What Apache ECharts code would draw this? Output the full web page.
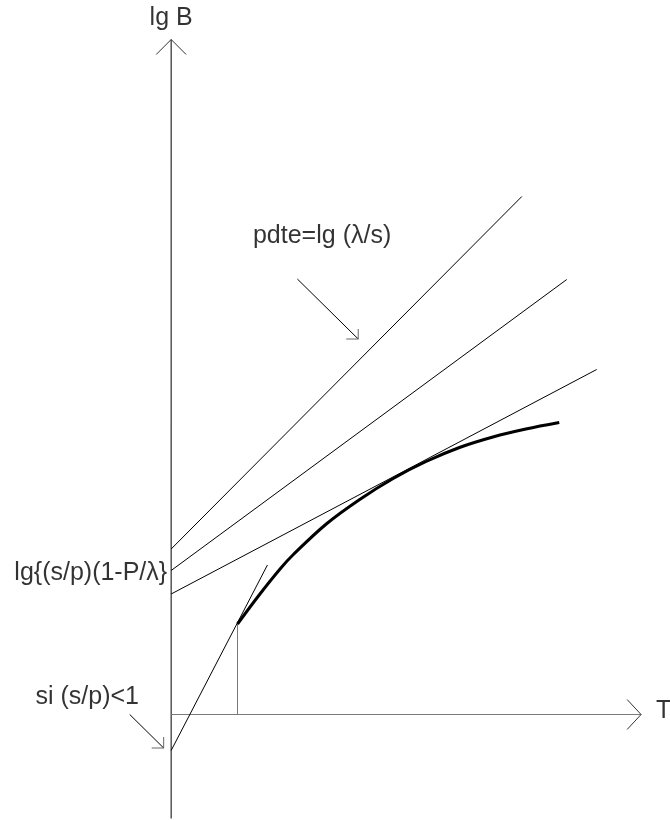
<!DOCTYPE html>
<html>
<head>
<meta charset="utf-8">
<style>html,body{margin:0;padding:0;background:#fff}#c{width:670px;height:820px}</style>
<script src="https://cdn.jsdelivr.net/npm/echarts@6/dist/echarts.min.js"></script>
</head>
<body>
<div id="c"></div>
<script>
// Axes (schematic, in data units)
var vAxisLine = [[0, -2.08], [0, 13.5]];
var vAxisHead = [[-0.3, 13.2], [0, 13.5], [0.3, 13.2]];
var hAxisLine = [[0, 0], [9.42, 0]];
var hAxisHead = [[9.14, 0.3], [9.42, 0], [9.14, -0.3]];

// Straight lines
var line1 = [[0, 3.31], [7.03, 10.36]];
var line2 = [[0, 2.88], [7.93, 8.70]];
var line3 = [[0, 2.41], [8.53, 6.90]];
var tangentLine = [[0, -0.72], [1.93, 2.99]];
var dropLine = [[1.33, 0], [1.33, 1.81]];

// Curve lg B vs T
var curveT = [1.33, 1.78, 2.20, 2.45, 3.11, 3.78, 4.45, 5.11, 5.78, 6.45, 7.11, 7.78];
var curveB = [1.81, 2.41, 2.93, 3.20, 3.81, 4.30, 4.72, 5.06, 5.34, 5.55, 5.71, 5.84];

// Annotation arrows
var arrow1 = [[2.53, 8.71], [3.75, 7.51]];
var arrow1Head = [[3.51, 7.51], [3.75, 7.51], [3.75, 7.71]];
var arrow2 = [[-0.83, 0], [-0.15, -0.67]];
var arrow2Head = [[-0.39, -0.67], [-0.15, -0.67], [-0.15, -0.45]];

// Labels
var labelTexts = ['lg B', 'pdte=lg (\u03bb/s)', 'lg{(s/p)(1-P/\u03bb}', 'si (s/p)<1', 'T'];
var labelX = [0, 1.64, -0.08, -2.72, 9.72];
var labelY = [13.92, 9.56, 2.82, 0.35, 0.06];
var labelAlign = ['center', 'left', 'right', 'left', 'left'];

var chart = echarts.init(document.getElementById('c'), null, {renderer: 'canvas'});

function seg(data, color, width) {
  return {
    type: 'line', data: data, symbol: 'none', clip: false, silent: true,
    animation: false, lineStyle: {color: color, width: width || 1}
  };
}

var curveData = curveT.map(function (t, i) { return [t, curveB[i]]; });
var labelData = labelTexts.map(function (t, i) {
  return {value: [labelX[i], labelY[i]], name: t,
    label: {align: labelAlign[i]}};
});

chart.setOption({
  backgroundColor: '#fff',
  animation: false,
  grid: {left: 21.5, top: 14.5, width: 650, height: 800},
  xAxis: {type: 'value', min: -3, max: 10, show: false},
  yAxis: {type: 'value', min: -2, max: 14, show: false},
  series: [
    seg(vAxisLine, '#000', 1),
    seg(vAxisHead, '#333', 1),
    seg(hAxisLine, '#7a7a7a', 1),
    seg(hAxisHead, '#333', 1),
    seg(line1, '#000', 1),
    seg(line2, '#000', 1),
    seg(line3, '#000', 1),
    seg(tangentLine, '#000', 1),
    seg(dropLine, '#7a7a7a', 1),
    seg(arrow1, '#000', 1),
    seg(arrow1Head, '#666', 1),
    seg(arrow2, '#000', 1),
    seg(arrow2Head, '#666', 1),
    {
      type: 'line', data: curveData, smooth: 0.35, symbol: 'none', clip: false,
      animation: false, silent: true, lineStyle: {color: '#000', width: 3}
    },
    {
      type: 'scatter', data: labelData, symbolSize: 0, clip: false, silent: true,
      animation: false,
      label: {
        show: true, position: 'inside', formatter: '{b}',
        color: '#000', fontFamily: 'Liberation Sans, Arial, sans-serif',
        fontSize: 25, verticalAlign: 'middle'
      }
    }
  ]
});
</script>
</body>
</html>
